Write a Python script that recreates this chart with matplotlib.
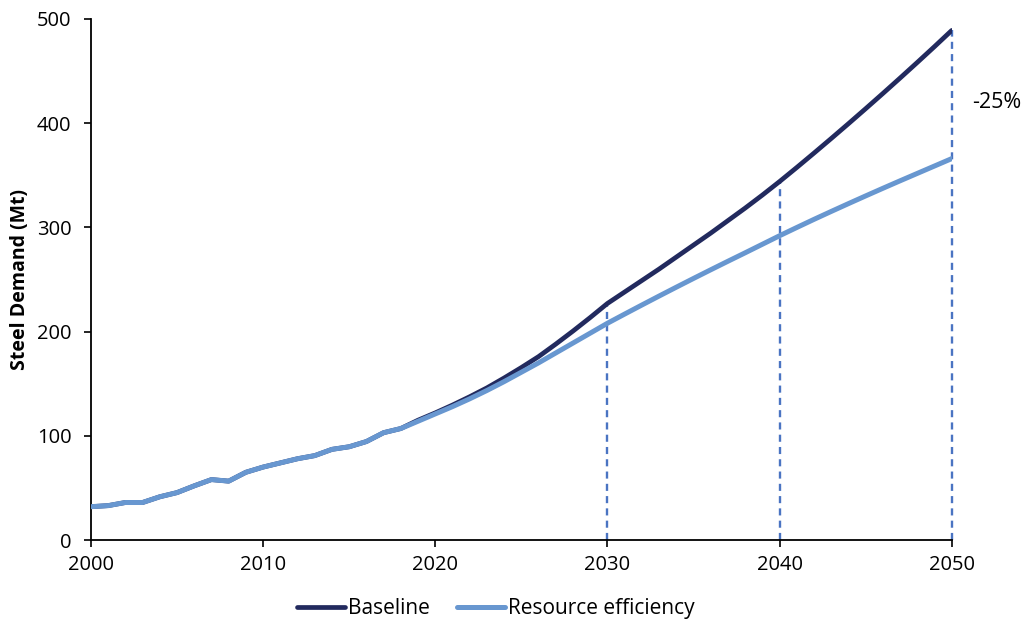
import numpy as np
import matplotlib
matplotlib.use("Agg")
import matplotlib.pyplot as plt

plt.rcParams["font.family"] = ["Open Sans", "DejaVu Sans"]

years = np.arange(2000, 2051)

# history, both scenarios share it up to 2018
history = [32, 33, 36, 36, 41.5, 45.5, 52, 58, 56.5, 65, 70, 74, 78, 81, 87, 89.5, 94.5, 103, 107]

baseline_future = [115, 122, 129.5, 137.5, 146, 155.5, 165.5, 176, 188, 200.5, 213.5, 227,
                   238, 249, 260, 271.5, 283, 294.5, 306.5, 318.5, 331, 344,
                   357.5, 371.3, 385.3, 399.5, 413.9, 428.5, 443.3, 458.3, 473.5, 489]
efficiency_future = [114, 121, 128, 135.5, 143.5, 152, 161, 170, 179.5, 189, 198.5, 208,
                     216.8, 225.5, 234.1, 242.6, 251, 259.3, 267.5, 275.6, 283.8, 292,
                     299.9, 307.7, 315.3, 322.8, 330.2, 337.5, 344.7, 351.8, 358.9, 366]

baseline = np.array(history + baseline_future)
efficiency = np.array(history + efficiency_future)

marker_years = [2030, 2040, 2050]
label_text = "-25%"

c_base = "#222a5e"
c_eff = "#6897d0"
c_dash = "#4a74c2"

fg = plt.figure(figsize=(10.3, 6.22), dpi=100)
ax = fg.add_axes([0.0883, 0.1318, 0.8357, 0.8377])

for yr in marker_years:
    ax.vlines(yr, 0, baseline[yr - 2000], colors=c_dash, linestyles=(0, (3, 2.2)),
              linewidth=1.7, zorder=1, clip_on=False)

ax.plot(years, baseline, color=c_base, linewidth=3.4, label="Baseline", zorder=2,
        solid_capstyle="round")
ax.plot(years, efficiency, color=c_eff, linewidth=3.6, label="Resource efficiency", zorder=3,
        solid_capstyle="round")

ax.text(2051.2, 420, label_text, fontsize=15.5, va="center", ha="left")

ax.set_xlim(2000, 2050)
ax.set_ylim(0, 500)
ax.set_xticks(np.arange(2000, 2051, 10))
ax.set_yticks(np.arange(0, 501, 100))
ax.tick_params(direction="out", length=5, width=1.2, labelsize=14.5)
ax.tick_params(axis="x", pad=6)
ax.tick_params(axis="y", pad=9)
ax.set_ylabel("Steel Demand (Mt)", fontsize=14, fontweight="bold", labelpad=5)

for s in ["top", "right"]:
    ax.spines[s].set_visible(False)
for s in ["left", "bottom"]:
    ax.spines[s].set_linewidth(1.3)

ax.legend(loc="upper center", bbox_to_anchor=(0.47, -0.075), ncol=2, frameon=False,
          fontsize=15, handlelength=2.3, handletextpad=0.15, columnspacing=1.3)

fg.savefig("out.png", dpi=100)
